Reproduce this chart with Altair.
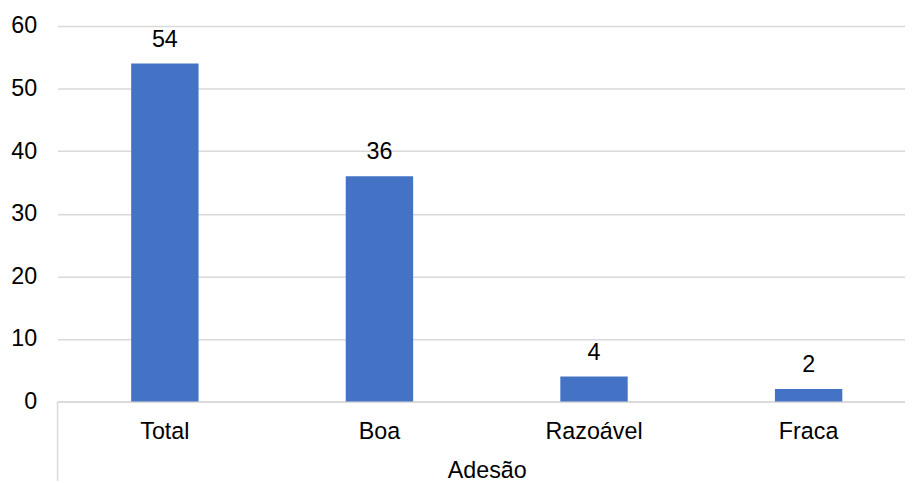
import altair as alt
import pandas as pd

categories = ["Total", "Boa", "Razoável", "Fraca"]
values = [54, 36, 4, 2]
y_ticks = [0, 10, 20, 30, 40, 50, 60]

df = pd.DataFrame({"cat": categories, "val": values})

W, H = 866, 379
FONT = "Liberation Sans"
GRID = "#d9d9d9"
FS = 23.5

x_enc = alt.X(
    "cat:N",
    sort=categories,
    scale=alt.Scale(domain=categories, paddingInner=0, paddingOuter=0),
    axis=alt.Axis(
        title="Adesão",
        labelAngle=0,
        ticks=False,
        domain=True,
        domainColor=GRID,
        domainWidth=1.5,
        labelBaseline="alphabetic",
        labelPadding=37,
        labelFontSize=FS,
        labelFont=FONT,
        labelColor="black",
        titleFontSize=FS,
        titleFont=FONT,
        titleFontWeight="normal",
        titleColor="black",
        titleX=433,
        titleY=77,
        titleBaseline="alphabetic",
        titleAlign="center",
    ),
)

y_enc = alt.Y(
    "val:Q",
    scale=alt.Scale(domain=[0, 60], nice=False),
    axis=alt.Axis(
        values=y_ticks,
        title=None,
        domain=False,
        ticks=False,
        labelPadding=21,
        labelFontSize=FS,
        labelFont=FONT,
        labelColor="black",
        gridColor=GRID,
        gridWidth=1.5,
    ),
)

bars = alt.Chart(df).mark_bar(size=68, color="#4472C4").encode(x=x_enc, y=y_enc)

labels = alt.Chart(df).mark_text(
    baseline="alphabetic", dy=-17, fontSize=FS, font=FONT, color="black"
).encode(x=x_enc, y=y_enc, text="val:Q")

sep = alt.Chart(pd.DataFrame({"v": [0]})).mark_rule(color=GRID, strokeWidth=1.5).encode(
    x=alt.value(0), y=alt.value(H), y2=alt.value(H + 80)
)

chart = (
    alt.layer(bars, labels, sep)
    .properties(
        width=W,
        height=H,
        autosize="none",
        padding={"left": 50, "top": 16, "right": -11, "bottom": 80},
        background="white",
    )
    .configure_view(stroke=None)
)

chart.save("out.html", embed_options={"renderer": "svg", "actions": False})
